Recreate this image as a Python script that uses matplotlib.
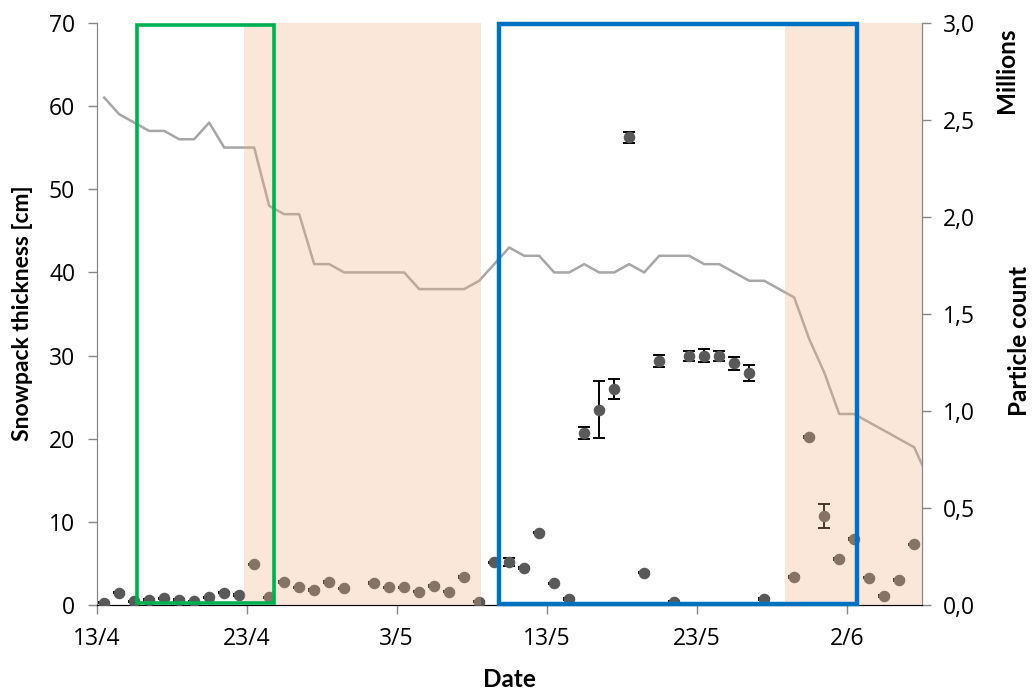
import matplotlib
matplotlib.use("Agg")
from matplotlib import pyplot as plt
from matplotlib.patches import Rectangle
import matplotlib.dates as mdates
import numpy as np

# daily values, first entry is 13/4 (plotted at noon)
start = mdates.datestr2num("2015-04-13")

snow_cm = [61, 59, 58, 57, 57, 56, 56, 58, 55, 55, 55, 48, 47, 47,
           41, 41, 40, 40, 40, 40, 40, 38, 38, 38, 38, 39, 41, 43,
           42, 42, 40, 40, 41, 40, 40, 41, 40, 42, 42, 42, 41, 41,
           40, 39, 39, 38, 37, 32, 28, 23, 23, 22, 21, 20, 19, 15]

# particle count in millions (nan = no sample)
particles = [0.015, 0.066, 0.021, 0.028, 0.037, 0.028, 0.021, 0.042, 0.066, 0.053,
             0.212, 0.042, 0.121, 0.093, 0.080, 0.121, 0.088, np.nan, 0.117, 0.093,
             0.093, 0.071, 0.100, 0.071, 0.148, 0.020, 0.222, 0.225, 0.192, 0.375,
             0.114, 0.033, 0.889, 1.007, 1.114, 2.409, 0.169, 1.260, 0.020, 1.286,
             1.286, 1.286, 1.247, 1.196, 0.033, np.nan, 0.148, 0.869, 0.461, 0.240,
             0.341, 0.143, 0.049, 0.131, 0.315]
particles_err = [0.004] * len(particles)
for i, e in {27: 0.021, 32: 0.030, 33: 0.147, 34: 0.051, 35: 0.026, 37: 0.030,
             39: 0.026, 40: 0.034, 41: 0.026, 42: 0.034, 43: 0.043, 47: 0.006,
             48: 0.060}.items():
    particles_err[i] = e

tick_days = [0, 10, 20, 30, 40, 50]
tick_labels = ["13/4", "23/4", "3/5", "13/5", "23/5", "2/6"]

# shaded periods and highlight boxes, in days after 13/4
shaded = [(9.8, 25.6), (45.9, 55.0)]
green_box = (2.7, 11.8, 0.25, 69.7)
blue_box = (26.8, 50.7, 0.2, 69.9)

x_snow = start + np.arange(len(snow_cm)) + 0.5
x_part = start + np.arange(len(particles)) + 0.5

fig = plt.figure(figsize=(10.34, 6.89), dpi=100)
ax = fig.add_axes([0.0935, 0.1212, 0.7979, 0.8459])
ax2 = ax.twinx()

ax.plot(x_snow, snow_cm, color="#a6a6a6", lw=1.8, zorder=2)

ax2.errorbar(x_part, particles, yerr=particles_err, fmt="none", ecolor="black",
             elinewidth=1.4, capsize=4.5, capthick=1.4, zorder=3)
ax2.plot(x_part, particles, "o", color="#595959", ms=7.3, zorder=4)

for a, b in shaded:
    ax2.axvspan(start + a, start + b, color="#f4b183", alpha=0.3, lw=0, zorder=5)

for (x0, x1, y0, y1), col, lw in [(green_box, "#00b050", 2.6), (blue_box, "#0070c0", 3.2)]:
    ax2.add_patch(Rectangle((start + x0, y0), x1 - x0, y1 - y0, transform=ax.transData,
                            fill=False, edgecolor=col, lw=lw, joinstyle="miter",
                            clip_on=False, zorder=6))

ax.set_xlim(start, start + 55)
ax.set_ylim(0, 70)
ax2.set_ylim(0, 3)
ax.set_xticks([start + d for d in tick_days])
ax.set_xticklabels(tick_labels)
ax.set_yticks(range(0, 71, 10))
ax2.set_yticks(np.arange(0, 3.01, 0.5))
ax2.set_yticklabels([f"{v:.1f}".replace(".", ",") for v in np.arange(0, 3.01, 0.5)])

for lab in ax.get_xticklabels() + ax.get_yticklabels() + ax2.get_yticklabels():
    lab.set_fontfamily("Open Sans")
    lab.set_fontsize(16.5)

for a in (ax, ax2):
    a.spines["top"].set_visible(False)
    a.spines["left"].set_color("#868686")
    a.spines["right"].set_color("#868686")
    a.spines["bottom"].set_color("black")
ax.tick_params(axis="both", direction="out", length=6.5, width=1, color="#868686", pad=9)
ax2.tick_params(axis="y", direction="out", length=6.5, width=1, color="#868686", pad=9)

lab_font = dict(family="Lato", weight="bold", size=17.5)
fig.text(0.0222, 0.5457, "Snowpack thickness [cm]", rotation=90, ha="center", va="center",
         family="Lato", weight="bold", size=16.5)
fig.text(0.4923, 0.003, "Date", ha="center", va="baseline", **lab_font)
fig.text(0.9736, 0.898, "Millions", rotation=90, ha="center", va="center", **lab_font)
fig.text(0.9855, 0.505, "Particle count", rotation=90, ha="center", va="center", **lab_font)

fig.savefig("out.png", dpi=100)
